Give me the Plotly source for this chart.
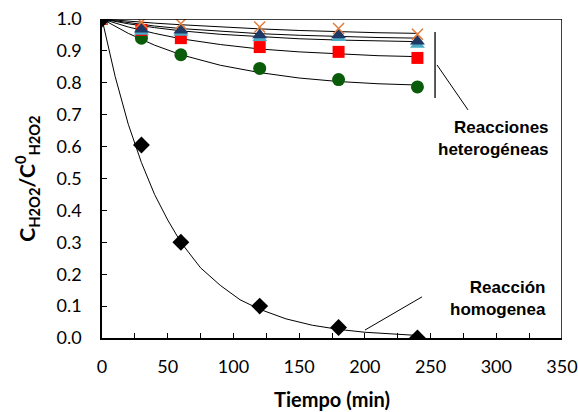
import plotly.graph_objects as go

# --- measured points ---
t_pts = [0, 30, 60, 120, 180, 240]
homog = [1.0, 0.605, 0.30, 0.10, 0.033, 0.0]
het_x = [1.0, 0.99, 0.985, 0.975, 0.97, 0.952]
het_tri_light = [1.0, 0.961, 0.958, 0.941, 0.941, 0.92]
het_tri = [1.0, 0.968, 0.965, 0.95, 0.95, 0.93]
het_sq = [1.0, 0.966, 0.94, 0.912, 0.897, 0.878]
het_circ = [1.0, 0.94, 0.888, 0.845, 0.81, 0.787]

# --- fitted curves ---
t_fit = [0, 20, 40, 60, 90, 120, 150, 180, 210, 240]
fit_x = [1.0, 0.993, 0.987, 0.982, 0.975, 0.969, 0.964, 0.960, 0.957, 0.955]
fit_tri = [1.0, 0.988, 0.978, 0.970, 0.961, 0.954, 0.949, 0.945, 0.942, 0.940]
fit_tri_light = [1.0, 0.985, 0.973, 0.963, 0.952, 0.944, 0.938, 0.934, 0.931, 0.929]
fit_sq = [1.0, 0.975, 0.955, 0.938, 0.920, 0.906, 0.897, 0.890, 0.885, 0.882]
fit_circ = [1.0, 0.955, 0.918, 0.888, 0.855, 0.832, 0.815, 0.804, 0.797, 0.793]
t_fit_h = [0, 10, 20, 30, 40, 50, 60, 75, 90, 105, 120, 140, 160, 180, 200, 220, 240]
fit_h = [1.0, 0.82, 0.67, 0.55, 0.45, 0.37, 0.30, 0.22, 0.165, 0.12, 0.09, 0.06,
         0.04, 0.027, 0.018, 0.012, 0.008]

fig = go.Figure()
line = dict(color="black", width=1)
for ys in [fit_x, fit_tri, fit_tri_light, fit_sq, fit_circ]:
    fig.add_trace(go.Scatter(x=t_fit, y=ys, mode="lines", line=line, showlegend=False))
fig.add_trace(go.Scatter(x=t_fit_h, y=fit_h, mode="lines", line=line, showlegend=False))

fig.add_trace(go.Scatter(x=t_pts, y=het_circ, mode="markers", showlegend=False,
                         marker=dict(symbol="circle", size=13, color="#0a5c0a")))
fig.add_trace(go.Scatter(x=t_pts, y=het_sq, mode="markers", showlegend=False,
                         marker=dict(symbol="square", size=12, color="#ff0000")))
fig.add_trace(go.Scatter(x=t_pts, y=het_tri_light, mode="markers", showlegend=False,
                         marker=dict(symbol="triangle-up", size=13, color="#4bacc6")))
fig.add_trace(go.Scatter(x=t_pts, y=het_tri, mode="markers", showlegend=False,
                         marker=dict(symbol="triangle-up", size=13, color="#1f3864")))
fig.add_trace(go.Scatter(x=t_pts, y=het_x, mode="markers", showlegend=False,
                         marker=dict(symbol="x-thin-open", size=11, color="#e07b39",
                                     line=dict(color="#e07b39", width=1.5))))
fig.add_trace(go.Scatter(x=t_pts, y=homog, mode="markers", showlegend=False,
                         marker=dict(symbol="diamond", size=13, color="black")))

# plot frame (top and right edges)
frame = dict(color="black", width=1.5)
fig.add_shape(type="line", xref="x", yref="y", x0=0, y0=1.0, x1=350, y1=1.0, line=frame)
fig.add_shape(type="line", xref="x", yref="y", x0=350, y0=0, x1=350, y1=1.0, line=frame)
# leader lines
fig.add_shape(type="line", x0=253.4, y0=0.959, x1=253.4, y1=0.752, line=dict(color="black", width=1.3))
fig.add_shape(type="line", x0=254.9, y0=0.856, x1=278.5, y1=0.715, line=dict(color="black", width=1))
fig.add_shape(type="line", x0=200.1, y0=0.025, x1=243.5, y1=0.129, line=dict(color="black", width=1))

afont = dict(family="Liberation Sans", size=17, color="black")
fig.add_annotation(x=342, y=0.625, text="<b>Reacciones<br>heterogéneas</b>", showarrow=False,
                   xanchor="right", align="right", font=afont)
fig.add_annotation(x=339, y=0.125, text="<b>Reacción<br>homogenea</b>", showarrow=False,
                   xanchor="right", align="right", font=afont)

fig.update_layout(
    width=578, height=412, margin=dict(l=102, r=16, t=19, b=74),
    plot_bgcolor="white", paper_bgcolor="white",
    font=dict(family="Lato", size=18, color="black"),
)
fig.update_xaxes(range=[0, 350], tickvals=[0, 50, 100, 150, 200, 250, 300, 350],
                 automargin=False, ticklabeloverflow="allow",
                 ticks="inside", ticklen=5, tickcolor="black", ticklabelstandoff=12,
                 minor=dict(dtick=25, ticks="inside", ticklen=5, tickcolor="black"),
                 showline=True, linecolor="black", linewidth=1.5,
                 showgrid=False, zeroline=False,
                 title=dict(text="<b>Tiempo (min)</b>", font=dict(size=20), standoff=17))
fig.update_yaxes(range=[0, 1.0], dtick=0.1, tickformat=".1f", automargin=False,
                 ticklabeloverflow="allow",
                 ticks="inside", ticklen=5, tickcolor="black", ticklabelstandoff=15,
                 showline=True, linecolor="black", linewidth=1.5,
                 showgrid=False, zeroline=False,
                 title=dict(text="<b>C<sub>H2O2</sub>/C<sup>0</sup><sub>H2O2</sub></b>",
                            font=dict(size=21), standoff=15))
fig.write_html("out.html", config={"displayModeBar": False},
               post_script="document.body.style.margin='0';")
